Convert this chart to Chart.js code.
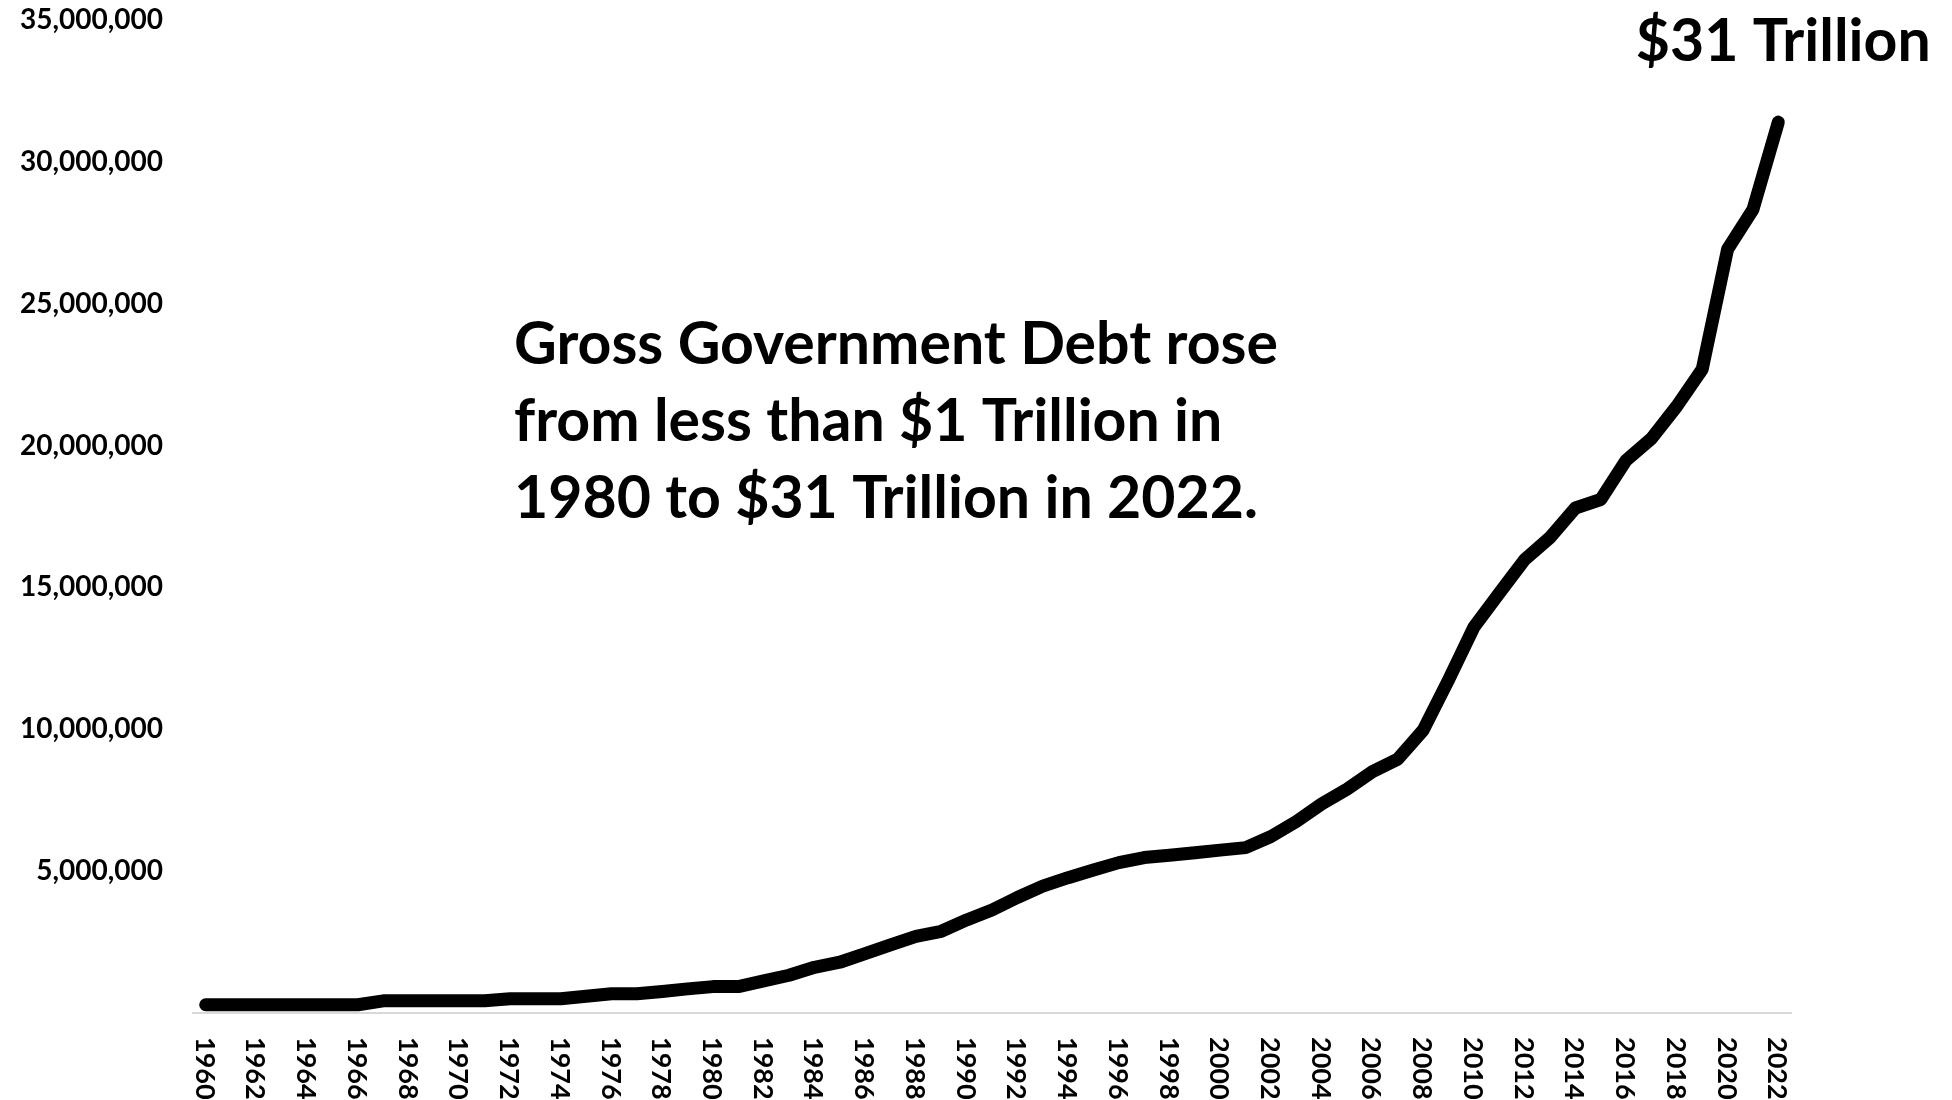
<!DOCTYPE html>
<html>
<head>
<meta charset="utf-8">
<title>Gross Government Debt</title>
<script src="https://cdn.jsdelivr.net/npm/chart.js@4.4.0/dist/chart.umd.min.js"></script>
<style>
  html, body { margin: 0; padding: 0; background: #fff; }
  #wrap { width: 1952px; height: 1100px; }
</style>
</head>
<body>
<div id="wrap"><canvas id="debtChart" width="1952" height="1100"></canvas></div>
<script>
// Years on the x axis
var years = [
  '1960', '1961', '1962', '1963', '1964', '1965', '1966', '1967', '1968', '1969',
  '1970', '1971', '1972', '1973', '1974', '1975', '1976', '1977', '1978', '1979',
  '1980', '1981', '1982', '1983', '1984', '1985', '1986', '1987', '1988', '1989',
  '1990', '1991', '1992', '1993', '1994', '1995', '1996', '1997', '1998', '1999',
  '2000', '2001', '2002', '2003', '2004', '2005', '2006', '2007', '2008', '2009',
  '2010', '2011', '2012', '2013', '2014', '2015', '2016', '2017', '2018', '2019',
  '2020', '2021', '2022'
];

// Gross government debt, millions of dollars
var debt = [
  290000, 290000, 290000, 290000, 290000, 290000, 290000, 430000, 430000, 430000,
  430000, 430000, 500000, 500000, 500000, 590000, 680000, 680000, 760000, 850000,
  930000, 930000, 1130000, 1330000, 1610000, 1790000, 2090000, 2400000, 2700000, 2880000,
  3280000, 3630000, 4070000, 4470000, 4770000, 5040000, 5300000, 5480000, 5560000, 5650000,
  5740000, 5830000, 6220000, 6750000, 7370000, 7890000, 8510000, 8950000, 9970000, 11740000,
  13600000, 14800000, 15980000, 16760000, 17800000, 18100000, 19480000, 20250000, 21390000, 22690000,
  26920000, 28320000, 31400000
];

// y axis ticks
var yTicks = [5000000, 10000000, 15000000, 20000000, 25000000, 30000000, 35000000];

var noteLines = [
  'Gross Government Debt rose',
  'from less than $1 Trillion in',
  '1980 to $31 Trillion in 2022.'
];

var FONT = 'Lato';

// year labels (rotated, every other year), the note and the end-of-line label
var textPlugin = {
  id: 'debtText',
  afterDraw: function (chart) {
    var ctx = chart.ctx;
    var area = chart.chartArea;
    var xs = chart.scales.x;
    var ys = chart.scales.y;
    ctx.save();
    ctx.fillStyle = '#000';

    ctx.font = 'bold 27px ' + FONT;
    ctx.textAlign = 'left';
    ctx.textBaseline = 'alphabetic';
    years.forEach(function (yr, i) {
      if (i % 2) return;
      ctx.save();
      ctx.translate(xs.getPixelForValue(i), area.bottom + 24);
      ctx.rotate(Math.PI / 2);
      ctx.fillText(yr, 0, 10);
      ctx.restore();
    });

    ctx.font = 'bold 59px ' + FONT;
    noteLines.forEach(function (line, k) {
      ctx.fillText(line, 514, 364 + k * 77);
    });

    var last = debt.length - 1;
    var px = xs.getPixelForValue(last);
    var py = ys.getPixelForValue(debt[last]);
    var peak = '$' + Math.round(debt[last] / 1000000) + ' Trillion';
    ctx.textAlign = 'center';
    ctx.fillText(peak, px + 5, py - 61);
    ctx.restore();
  }
};

function draw() {
  var ctx = document.getElementById('debtChart').getContext('2d');
  Chart.defaults.font.family = FONT;
  new Chart(ctx, {
    type: 'line',
    data: {
      labels: years,
      datasets: [{
        label: 'Gross Government Debt',
        data: debt,
        borderColor: '#000',
        borderWidth: 13,
        borderCapStyle: 'round',
        borderJoinStyle: 'round',
        pointRadius: 0,
        tension: 0,
        fill: false
      }]
    },
    options: {
      responsive: false,
      animation: false,
      devicePixelRatio: 1,
      layout: { padding: { top: 20, right: 161, bottom: 87, left: 0 } },
      plugins: { legend: { display: false }, tooltip: { enabled: false } },
      scales: {
        x: {
          offset: true,
          grid: { display: false, drawTicks: false },
          border: { display: true, color: '#d9d9d9', width: 2 },
          ticks: { display: false }
        },
        y: {
          min: 0,
          max: 35000000,
          afterFit: function (scale) {
            scale.width = 193;
            scale.paddingTop = 0;
            scale.paddingBottom = 0;
          },
          afterBuildTicks: function (scale) {
            scale.ticks = [{ value: 0 }].concat(yTicks.map(function (v) { return { value: v }; }));
          },
          grid: { display: false, drawTicks: false },
          border: { display: false },
          ticks: {
            padding: 30,
            color: '#000',
            font: { size: 28, weight: 'bold' },
            callback: function (v) { return v === 0 ? '' : v.toLocaleString('en-US'); }
          }
        }
      }
    },
    plugins: [textPlugin]
  });
}

if (document.fonts && document.fonts.load) {
  document.fonts.load('bold 28px ' + FONT).then(draw, draw);
} else {
  draw();
}
</script>
</body>
</html>
